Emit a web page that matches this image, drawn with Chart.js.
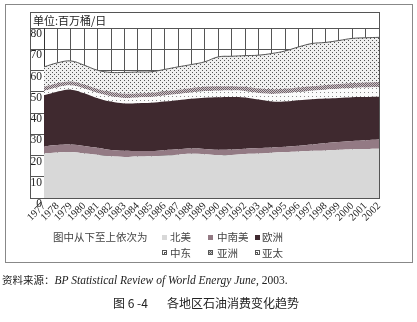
<!DOCTYPE html>
<html lang="zh">
<head>
<meta charset="UTF-8" />
<title>各地区石油消费变化趋势</title>
<script src="https://cdn.jsdelivr.net/npm/chart.js"></script>
<style>
  body { margin: 0; background: #fff; width: 417px; height: 322px; position: relative; overflow: hidden;
         font-family: "Noto Sans CJK SC", sans-serif; color: #222; }
  #chart { position: absolute; left: 0; top: 0; }
  .frame { position: absolute; border: 1px solid #888; pointer-events: none; }
  .txt { position: absolute; white-space: nowrap; line-height: 14px; }
  .mk { position: absolute; width: 5px; height: 5px; top: 4px; box-sizing: border-box; }
  #source i { font-family: "Liberation Serif", serif; font-size: 11.5px; }
</style>
</head>
<body>
  <canvas id="chart" width="417" height="322"></canvas>
  <div class="frame" style="left:5px;top:4px;width:406px;height:257px;"></div>
  <div class="frame" style="left:30px;top:12px;width:348px;height:185px;border-color:#555;"></div>
  <div class="txt" style="left:33px;top:13px;font-size:11px;">单位:百万桶/日</div>
  <div id="legend"></div>
  <div class="txt" id="source" style="left:2px;top:273px;font-size:10.5px;">资料来源：<i>BP Statistical Review of World Energy June</i><span style="font-family:'Liberation Serif',serif;font-size:11.5px;">, 2003.</span></div>
  <div class="txt" style="left:113px;top:296px;font-size:12px;">图 6 -4</div>
  <div class="txt" style="left:167px;top:296px;font-size:12px;">各地区石油消费变化趋势</div>

<script>
// 年份
const years = ['1977','1978','1979','1980','1981','1982','1983','1984','1985','1986','1987','1988','1989',
               '1990','1991','1992','1993','1994','1995','1996','1997','1998','1999','2000','2001','2002'];

// 各地区消费量（百万桶/日），从下至上
const northAmerica = [21.0,21.4,21.6,21.0,20.4,19.6,19.3,19.5,19.6,20.0,20.4,20.8,20.6,
                      20.2,20.2,20.7,20.9,21.3,21.6,21.9,22.2,22.4,22.7,23.0,23.1,23.2];
const southAmerica = [3.4,3.6,3.6,3.5,3.2,3.0,2.9,2.6,2.5,2.5,2.5,2.5,2.5,
                      2.5,2.6,2.5,2.6,2.5,2.5,2.7,3.0,3.4,3.6,3.8,4.1,4.3];
const europe       = [23.9,25.0,25.8,24.8,23.4,22.8,22.3,22.5,22.7,22.9,23.1,23.4,24.1,
                      24.7,24.7,24.1,22.8,21.6,21.3,21.4,21.3,21.0,20.8,20.6,20.3,20.1];
const middleEast   = [2.0,2.0,2.0,2.2,2.4,2.5,2.6,2.7,2.7,2.8,2.9,3.0,3.1,
                      3.1,3.1,3.1,3.1,3.6,3.9,3.9,4.0,4.2,4.3,4.4,4.5,4.5];
const asia         = [2.0,2.0,1.8,1.9,1.9,2.0,2.0,1.9,2.0,2.0,2.0,2.1,2.1,
                      2.1,2.0,1.9,2.1,2.2,2.1,2.1,2.1,2.1,2.2,2.3,2.4,2.5];
const asiaPacific  = [9.4,9.6,9.7,9.1,8.8,9.2,10.0,10.1,9.9,10.3,10.8,11.0,11.7,
                      13.8,14.1,14.7,15.7,16.8,17.8,19.1,20.1,20.1,20.5,21.0,21.0,21.0];

const regions = ['北美','中南美','欧洲','中东','亚洲','亚太'];
const yTicks = [0,10,20,30,40,50,60,70,80];

// 填充图案
function pattern(w, h, bg, fg, dots) {
  const c = document.createElement('canvas');
  c.width = w; c.height = h;
  const g = c.getContext('2d');
  g.fillStyle = bg; g.fillRect(0, 0, w, h);
  g.fillStyle = fg;
  dots.forEach(d => g.fillRect(d[0], d[1], 1, 1));
  return g.createPattern(c, 'repeat');
}
const fills = [
  '#d8d8d8',
  '#937a84',
  '#3f292f',
  pattern(4, 4, '#fbfbfb', '#8a8a8a', [[0,0]]),
  pattern(2, 2, '#cdc2c7', '#6f6369', [[0,0],[1,1]]),
  pattern(4, 4, '#f0f0f0', '#555', [[0,0],[2,2]])
];

const series = [northAmerica, southAmerica, europe, middleEast, asia, asiaPacific];

const ctx = document.getElementById('chart').getContext('2d');
new Chart(ctx, {
  type: 'line',
  data: {
    labels: years,
    datasets: series.map((d, i) => ({
      label: regions[i],
      data: d,
      backgroundColor: fills[i],
      borderColor: i === 5 ? '#555' : 'rgba(0,0,0,0)',
      borderWidth: i === 5 ? 1 : 0,
      pointRadius: 0,
      tension: 0.4,
      fill: i === 0 ? 'origin' : '-1'
    }))
  },
  options: {
    responsive: false,
    animation: false,
    layout: { padding: { left: 30, top: 28, right: 38, bottom: 96 } },
    plugins: { legend: { display: false }, tooltip: { enabled: false } },
    scales: {
      x: {
        offset: false,
        grid: { color: '#555', lineWidth: 1, drawTicks: false },
        border: { color: '#333' },
        ticks: {
          autoSkip: false, minRotation: 45, maxRotation: 45, padding: 2,
          color: '#222', font: { family: 'Liberation Serif', size: 10.5 }
        },
        afterFit: s => { s.height = 28; }
      },
      y: {
        stacked: true,
        min: 0, max: 80,
        afterBuildTicks: s => { s.ticks = yTicks.map(v => ({ value: v })); },
        grid: { color: '#555', lineWidth: 1, tickLength: 14 },
        border: { color: '#333' },
        ticks: {
          labelOffset: 6, padding: -12,
          color: '#222', font: { family: 'Liberation Serif', size: 11.5 }
        },
        afterFit: s => { s.width = 14; }
      }
    }
  }
});

// 图例
const legend = document.getElementById('legend');
const rows = [237, 252.5];
const cols = [[162, 170], [208, 217], [255, 262]];
let html = '<div class="txt" style="left:53px;top:' + (rows[0] - 7) + 'px;font-size:10.5px;color:#444;">图中从下至上依次为</div>';
const mkStyle = [
  'background:#d8d8d8;',
  'background:#937a84;',
  'background:#3f292f;',
  'border:1px solid #555;background:radial-gradient(circle,#555 0 1px,#fff 1px);',
  'border:1px solid #555;background:repeating-conic-gradient(#666 0 25%,#ccc 0 50%) 0 0/2px 2px;',
  'border:1px solid #555;background:radial-gradient(circle,#555 0 1px,#fff 1px);'
];
regions.forEach((name, i) => {
  const r = Math.floor(i / 3), c = i % 3;
  const top = rows[r] - 7;
  html += '<div class="mk" style="left:' + cols[c][0] + 'px;top:' + (top + 4.5) + 'px;' + mkStyle[i] + '"></div>';
  html += '<div class="txt" style="left:' + cols[c][1] + 'px;top:' + top + 'px;font-size:10.5px;color:#444;">' + name + '</div>';
});
legend.innerHTML = html;
</script>
</body>
</html>
